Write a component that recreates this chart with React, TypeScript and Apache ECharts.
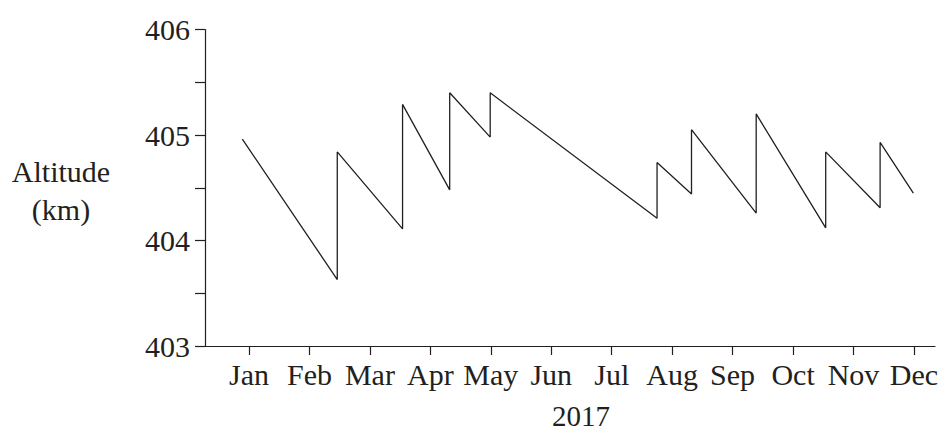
import React, { useEffect, useRef } from "react";
import * as echarts from "echarts";

const monthLabels = ["Jan", "Feb", "Mar", "Apr", "May", "Jun", "Jul", "Aug", "Sep", "Oct", "Nov", "Dec"];
const monthTicks = [1, 2, 3, 4, 5, 6, 7, 8, 9, 10, 11, 12];
// position in months (1 = Jan tick)
const monthPos = [0.89, 2.46, 2.46, 3.54, 3.54, 4.32, 4.32, 4.99, 4.99, 7.75, 7.75, 8.32, 8.32, 9.39, 9.39, 10.54, 10.54, 11.44, 11.44, 11.99];
const altitudeKm = [404.96, 403.63, 404.84, 404.11, 405.29, 404.48, 405.40, 404.98, 405.40, 404.21, 404.74, 404.44, 405.05, 404.26, 405.20, 404.12, 404.84, 404.31, 404.93, 404.45];
const yearLabel = "2017";
const yTitle = "Altitude\n(km)";

const INK = "#231f20";
const FONT = "'Liberation Serif', 'Times New Roman', serif";

export default function App() {
  const ref = useRef<HTMLDivElement>(null);
  useEffect(() => {
    if (!ref.current) return;
    const chart = echarts.init(ref.current, undefined, { renderer: "svg" });
    const data = monthPos.map((m, i) => [m, altitudeKm[i]]);
    chart.setOption({
      animation: false,
      backgroundColor: "#ffffff",
      grid: { left: 205, right: 8, top: 29.5, bottom: 88, containLabel: false },
      xAxis: {
        type: "value",
        min: 0.272,
        max: 12.348,
        axisLine: { show: true, lineStyle: { color: INK, width: 1.2 } },
        axisTick: { show: true, length: 9, customValues: monthTicks, lineStyle: { color: INK, width: 1.2 } },
        axisLabel: {
          show: true,
          customValues: monthTicks,
          formatter: (v: number) => monthLabels[Math.round(v) - 1] ?? "",
          color: INK,
          fontFamily: FONT,
          fontSize: 30,
          lineHeight: 30,
          margin: 13,
        },
        splitLine: { show: false },
      },
      yAxis: {
        type: "value",
        min: 403,
        max: 406,
        interval: 0.5,
        axisLine: { show: true, lineStyle: { color: INK, width: 1.2 } },
        axisTick: { show: true, length: 10, lineStyle: { color: INK, width: 1.2 } },
        axisLabel: {
          show: true,
          formatter: (v: number) => (Math.abs(v - Math.round(v)) < 1e-6 ? String(Math.round(v)) : ""),
          color: INK,
          fontFamily: FONT,
          fontSize: 30,
          lineHeight: 30,
          padding: [0, 0, 4, 0],
          margin: 15,
        },
        splitLine: { show: false },
      },
      series: [
        {
          type: "line",
          data,
          symbol: "none",
          lineStyle: { color: INK, width: 1.3 },
        },
      ],
      graphic: [
        {
          type: "text",
          x: 581,
          y: 416,
          style: {
            text: yearLabel,
            fill: INK,
            fontFamily: FONT,
            fontSize: 29,
            lineHeight: 26,
            align: "center",
            verticalAlign: "middle",
          },
        },
        {
          type: "text",
          x: 61,
          y: 190,
          style: {
            text: yTitle,
            fill: INK,
            fontFamily: FONT,
            fontSize: 30,
            lineHeight: 38,
            align: "center",
            verticalAlign: "middle",
          },
        },
      ],
    });
    return () => chart.dispose();
  }, []);
  return (
    <div
      ref={ref}
      style={{ position: "fixed", left: 0, top: 0, width: 943, height: 434, background: "#fff" }}
    />
  );
}
